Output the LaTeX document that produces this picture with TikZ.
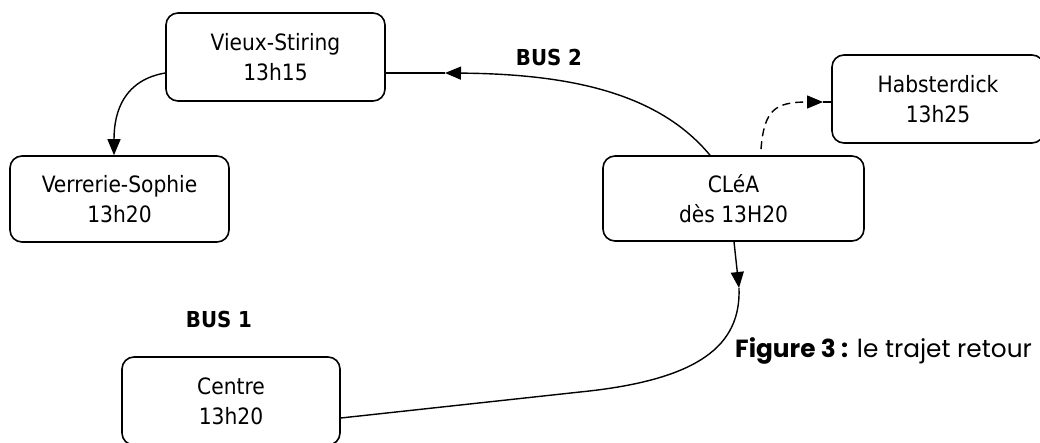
\documentclass[tikz,border=0pt]{standalone}
\usepackage{fontspec}
\setmainfont{DejaVu Sans Condensed}
\newfontfamily\capfont{Poppins}
\usetikzlibrary{arrows.meta,calc}
\begin{document}
\begin{tikzpicture}[x=1pt,y=-1pt,
  stop/.style={draw,line width=1.6pt,rounded corners=12pt,inner sep=0pt,align=center,
    font=\fontsize{22.5}{30}\selectfont},
  conn/.style={line width=1.4pt},
  tip/.style={-{Triangle[length=16pt,width=13pt]}},
  buslabel/.style={font=\fontsize{22}{26}\selectfont\bfseries}]
\useasboundingbox (0,0) rectangle (1040,443);
\node[stop,minimum width=219pt,minimum height=88pt] (vs) at (275.5,57) {Vieux-Stiring\\13h15};
\node[stop,minimum width=219pt,minimum height=86pt] (vsoph) at (119.5,199) {Verrerie-Sophie\\13h20};
\node[stop,minimum width=261pt,minimum height=85pt] (clea) at (733.5,198.5) {CLéA\\dès 13H20};
\node[stop,minimum width=212pt,minimum height=88pt] (hab) at (938,99) {Habsterdick\\13h25};
\node[stop,minimum width=218pt,minimum height=88pt] (centre) at (231,401) {Centre\\13h20};
\node[buslabel] (bus2) at (549,57) {BUS 2};
\node[buslabel] (bus1) at (219,319) {BUS 1};
\node[anchor=base west,inner sep=0pt,font=\capfont\fontsize{24.8}{28}\selectfont] (cap) at (735,357) {\textbf{Figure 3 :} le trajet retour};
% BUS 2 connector
\coordinate (a1) at (445,73);
\draw[conn,tip] ($(clea.north)+(-23.5,0)$) .. controls (660,95) and (575,74) .. (a1);
\draw[conn] (a1) -- (a1 -| vs.east);
% dashed connector to Habsterdick
\coordinate (a2) at (823,102);
\draw[conn,dashed,dash pattern=on 8pt off 5pt,tip] ($(clea.north)+(27.5,-6)$) .. controls (764,110) and (775,102) .. (a2);
\draw[conn] (a2) -- (a2 -| hab.west);
% Vieux-Stiring to Verrerie-Sophie
\draw[conn,tip] ($(vs.west)+(0,16)$) .. controls (125,80) and (114,110) .. (vsoph.north -| 114,0);
% CLeA to Centre
\coordinate (a3) at (739,288);
\coordinate (a4) at (580,392);
\draw[conn,tip] ($(clea.south)+(0.5,0)$) -- (a3);
\draw[conn] (a3) .. controls (741,345) and (700,380) .. (a4) -- (centre.east |- 0,418);
\end{tikzpicture}
\end{document}
